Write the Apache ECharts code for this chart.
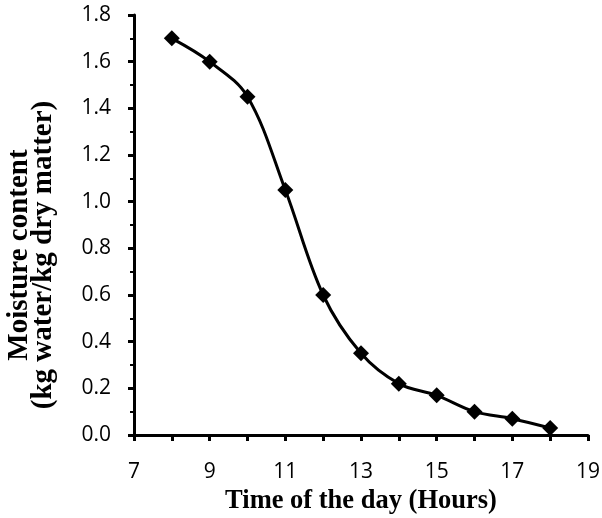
<!DOCTYPE html>
<html>
<head>
<meta charset="utf-8">
<script src="https://cdn.jsdelivr.net/npm/echarts@6/dist/echarts.min.js"></script>
<style>
html, body { margin: 0; padding: 0; background: #fff; }
#chart { width: 602px; height: 518px; }
</style>
</head>
<body>
<div id="chart"></div>
<script>
// data
var hours = [8, 9, 10, 11, 12, 13, 14, 15, 16, 17, 18];
var moisture = [1.70, 1.60, 1.45, 1.05, 0.60, 0.35, 0.22, 0.17, 0.10, 0.07, 0.03];

var points = [];
for (var i = 0; i < hours.length; i++) {
	points.push([hours[i], moisture[i]]);
}

var chart = echarts.init(document.getElementById('chart'));

var option = {
	animation: false,
	grid: {
		left: 134,
		right: 14,
		top: 15,
		bottom: 83,
		containLabel: false,
		outerBoundsMode: 'none'
	},
	xAxis: {
		type: 'value',
		min: 7,
		max: 19,
		interval: 1,
		name: 'Time of the day (Hours)',
		nameLocation: 'middle',
		nameGap: 50,
		nameTextStyle: {
			fontFamily: 'Liberation Serif',
			fontWeight: 'bold',
			fontSize: 26.5,
			color: '#000'
		},
		splitLine: { show: false },
		axisLine: { lineStyle: { color: '#000', width: 3 } },
		axisTick: { length: 6, lineStyle: { color: '#000', width: 3 } },
		axisLabel: {
			margin: 27,
			fontFamily: 'Open Sans',
			fontSize: 21,
			color: '#000',
			formatter: function(v) {
				return v % 2 == 1 ? String(v) : '';
			}
		}
	},
	yAxis: {
		type: 'value',
		min: 0,
		max: 1.8,
		interval: 0.2,
		name: 'Moisture content\n(kg water/kg dry matter)',
		nameLocation: 'middle',
		nameGap: 78,
		nameTextStyle: {
			fontFamily: 'Liberation Serif',
			fontWeight: 'bold',
			fontSize: 29,
			lineHeight: 24,
			color: '#000',
			padding: [0, 60, 0, 0]
		},
		splitLine: { show: false },
		axisLine: { show: true, lineStyle: { color: '#000', width: 3 } },
		axisTick: { show: true, length: 6, lineStyle: { color: '#000', width: 3 } },
		minorTick: { show: true, splitNumber: 2, length: 4, lineStyle: { color: '#000', width: 2 } },
		axisLabel: {
			margin: 23,
			fontFamily: 'Open Sans',
			fontSize: 21,
			color: '#000',
			formatter: function(v) {
				return v.toFixed(1);
			}
		}
	},
	series: [{
		type: 'line',
		data: points,
		smooth: 0.35,
		symbol: 'diamond',
		symbolSize: 16,
		itemStyle: { color: '#000' },
		lineStyle: { color: '#000', width: 3 }
	}]
};

chart.setOption(option, true);
</script>
</body>
</html>
